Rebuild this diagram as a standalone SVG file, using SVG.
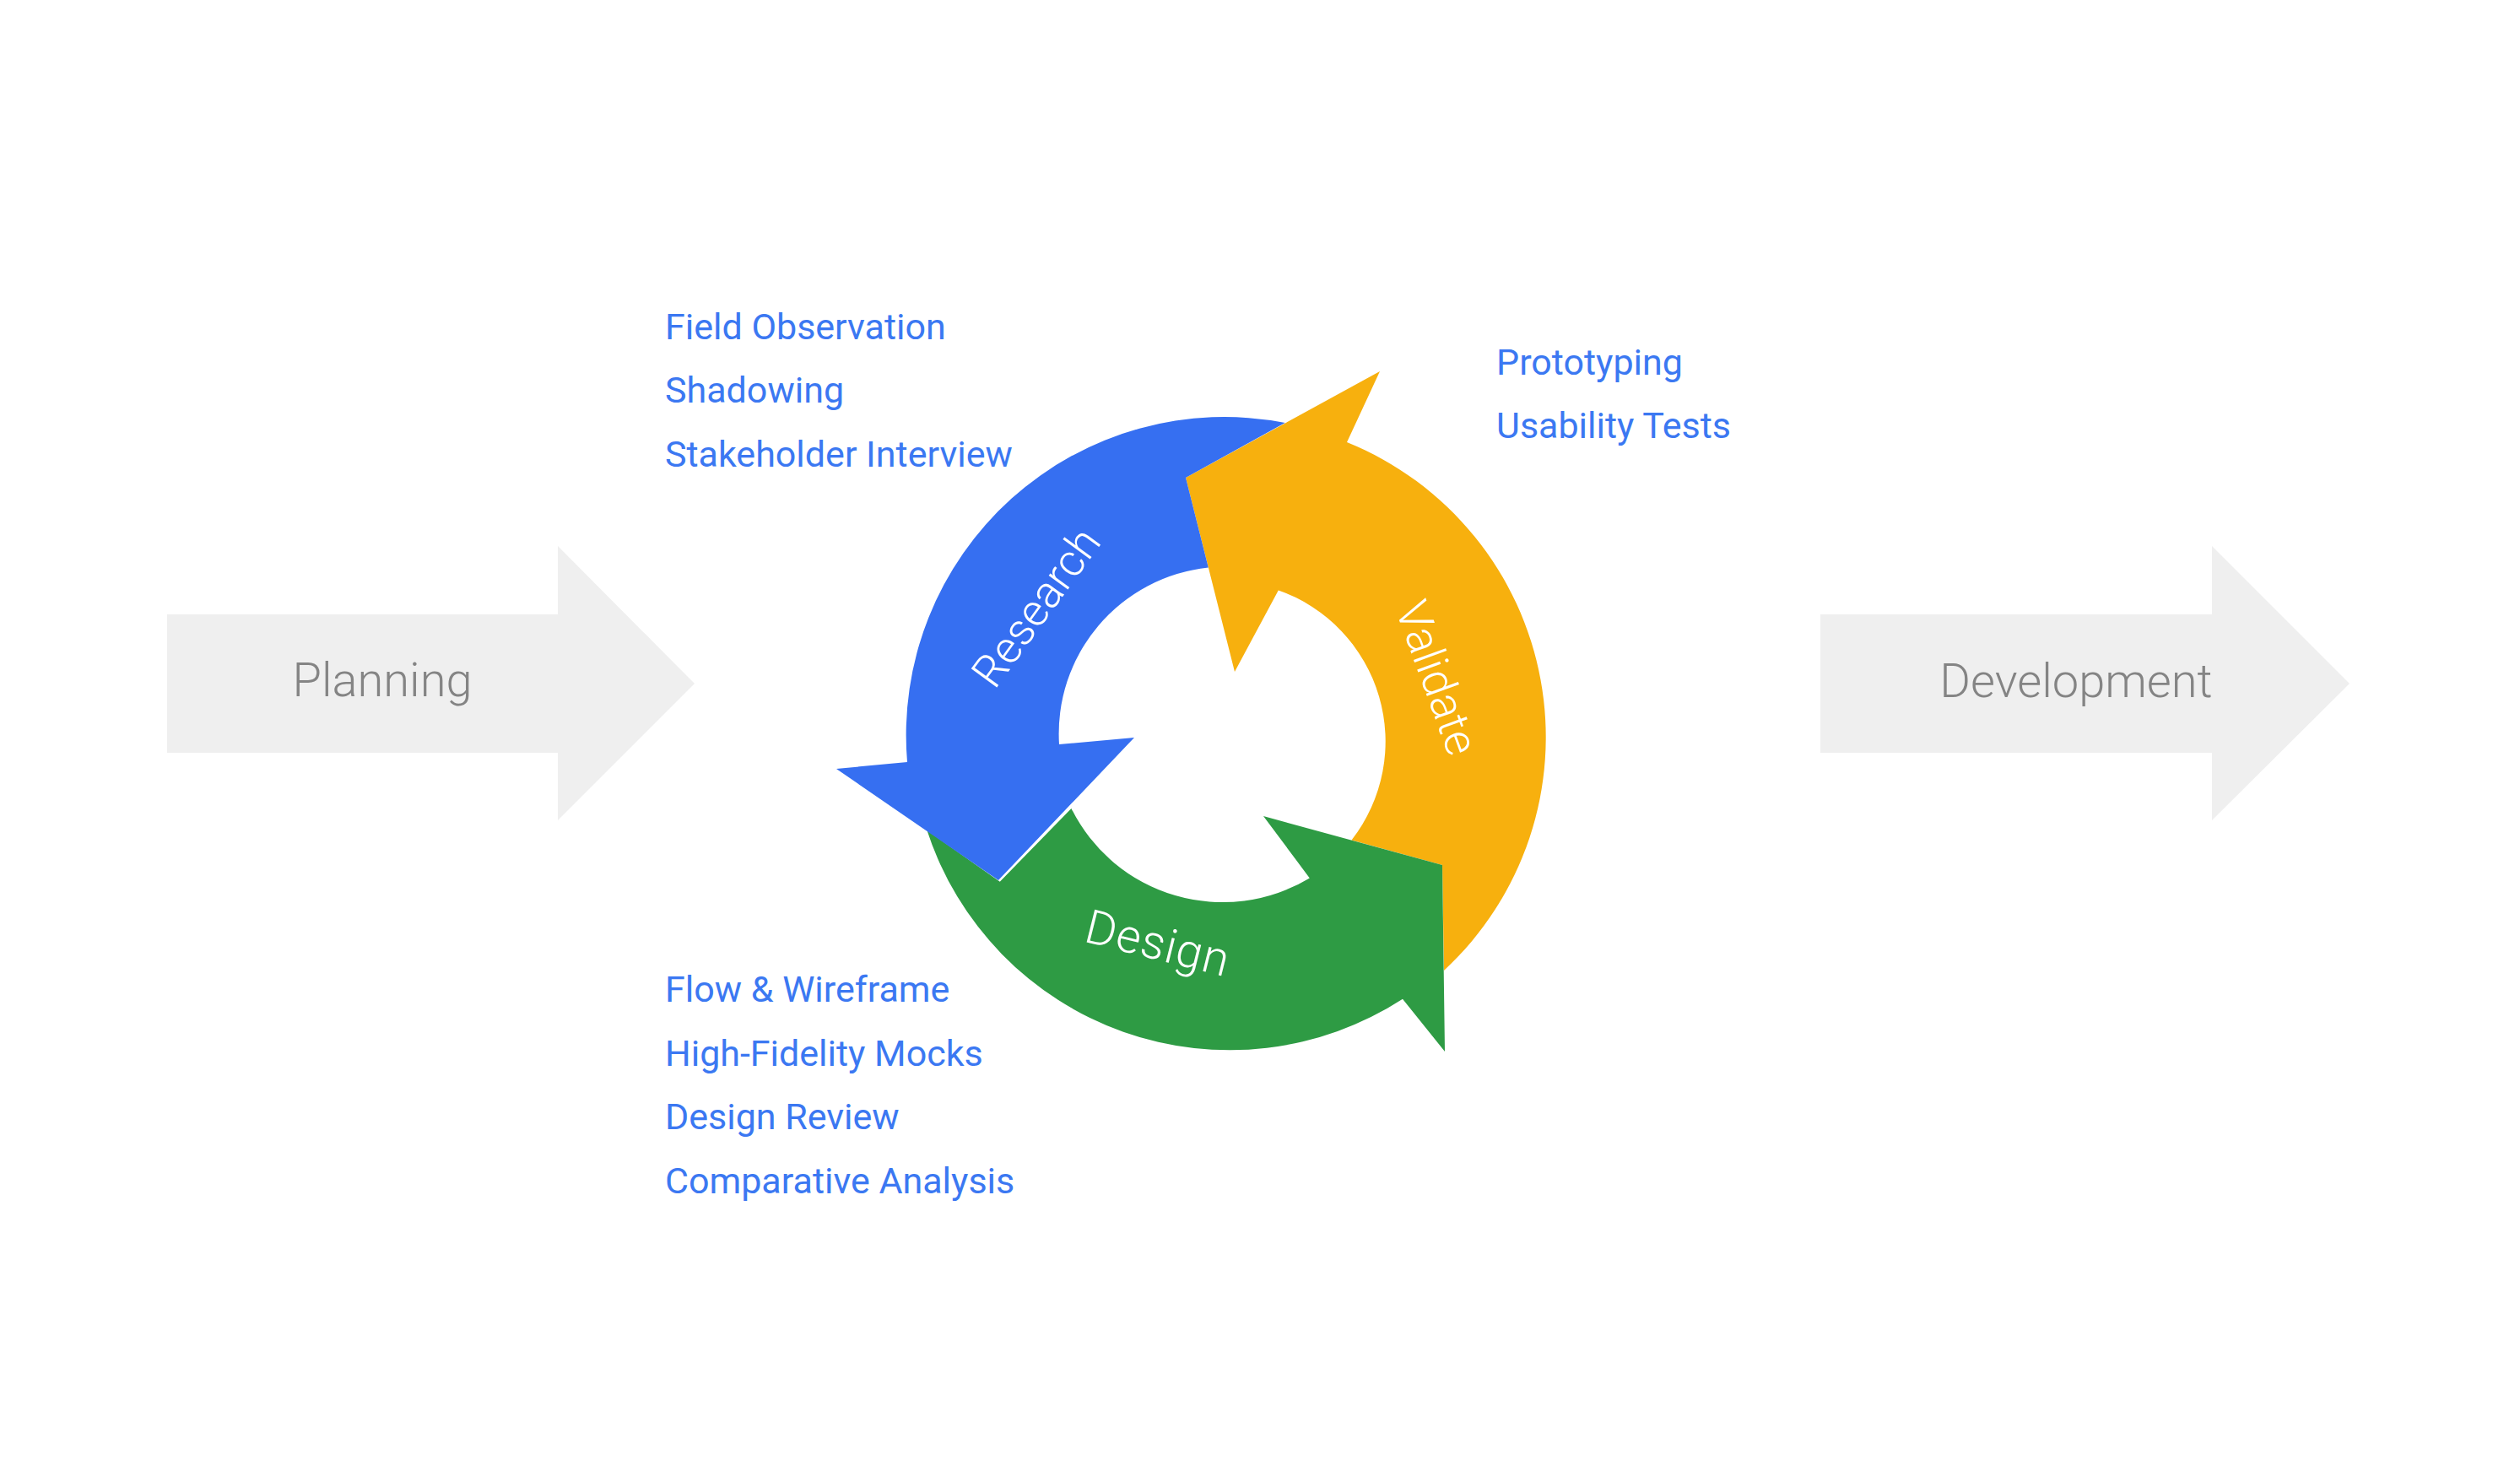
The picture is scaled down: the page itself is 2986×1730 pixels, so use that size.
<svg xmlns="http://www.w3.org/2000/svg" width="2986" height="1730" viewBox="0 0 2986 1730">
<style>
  .phase { fill: #EFEFEF; }
  .phaseText { font-family: Roboto, "Liberation Sans", sans-serif; font-size: 56px; fill: #848484; font-weight: 300; }
  .item { font-family: Roboto, "Liberation Sans", sans-serif; font-size: 43px; fill: #3B78F2; }
  .ringText { font-family: Roboto, "Liberation Sans", sans-serif; font-size: 54px; fill: #FFFFFF; font-weight: 300; text-anchor: middle; }
</style>
<rect width="2986" height="1730" fill="#FFFFFF"/>

<g id="planning">
  <polygon class="phase" points="198,728 661,728 661,647 823,810 661,972 661,892 198,892"/>
  <text class="phaseText" x="453" y="825" text-anchor="middle">Planning</text>
</g>

<g id="development">
  <polygon class="phase" points="2157,728 2621,728 2621,647 2784,810 2621,972 2621,892 2157,892"/>
  <text class="phaseText" x="2460" y="826" text-anchor="middle">Development</text>
</g>

<g id="validate">
  <path fill="#F7B00E" d="M 1711,1150 A 377 377 0 0 0 1596,524 L 1635,440 L 1405,566 L 1463,796 L 1514.8,699.4 A 190 190 0 0 1 1601.5,995.5 L 1709,1025 Z"/>
  <text class="ringText" transform="translate(1703,803) rotate(70)" x="0" y="19">Validate</text>
</g>

<g id="design">
  <path fill="#2E9B44" d="M 1098.5,984 A 377 377 0 0 0 1662,1183.7 L 1712,1246 L 1709,1025 L 1497,967 L 1551.8,1040.4 A 200 200 0 0 1 1269.4,957.9 L 1184.8,1044.7 Z"/>
  <text class="ringText" transform="translate(1372,1118) rotate(14)" x="0" y="19" style="font-size:56px;letter-spacing:1px">Design</text>
</g>

<g id="research">
  <path fill="#366FF1" d="M 1522.7,501 A 377 377 0 0 0 1075,903 L 991,911 L 1183,1043 L 1344,874 L 1255,882 A 198 198 0 0 1 1431.8,672.5 L 1405,566 Z"/>
  <text class="ringText" transform="translate(1227,719) rotate(-54)" x="0" y="19" style="font-size:53px">Research</text>
</g>

<g id="research-items">
  <text class="item" x="788" y="402">Field Observation</text>
  <text class="item" x="788" y="477">Shadowing</text>
  <text class="item" x="788" y="553">Stakeholder Interview</text>
</g>

<g id="validate-items">
  <text class="item" x="1773" y="444">Prototyping</text>
  <text class="item" x="1773" y="519">Usability Tests</text>
</g>

<g id="design-items">
  <text class="item" x="788" y="1187">Flow &amp; Wireframe</text>
  <text class="item" x="788" y="1263">High-Fidelity Mocks</text>
  <text class="item" x="788" y="1338">Design Review</text>
  <text class="item" x="788" y="1414">Comparative Analysis</text>
</g>

<g id="connectors"></g>
</svg>
